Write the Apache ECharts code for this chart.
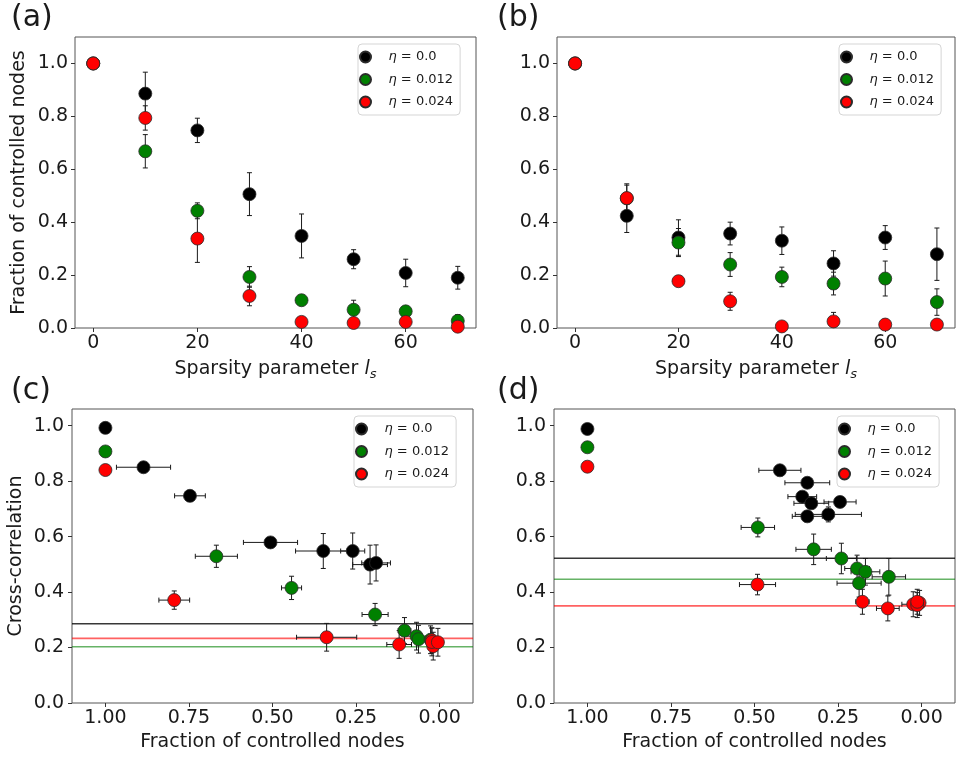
<!DOCTYPE html>
<html>
<head>
<meta charset="utf-8">
<script src="https://cdn.jsdelivr.net/npm/echarts@6/dist/echarts.min.js"></script>
<style>
  html, body { margin: 0; padding: 0; background: #fff; }
  #chart { width: 956px; height: 757px; }
</style>
</head>
<body>
<div id="chart"></div>
<script>
// ---------------- DATA ----------------
const etaNames = ['η = 0.0', 'η = 0.012', 'η = 0.024'];
const sparsity = [0, 10, 20, 30, 40, 50, 60, 70];

// (a) fraction of controlled nodes vs sparsity
const aBlack    = [1.0, 0.886, 0.747, 0.506, 0.348, 0.260, 0.208, 0.190];
const aBlackErr = [0, 0.081, 0.046, 0.081, 0.083, 0.036, 0.052, 0.043];
const aGreen    = [1.0, 0.668, 0.443, 0.193, 0.105, 0.069, 0.063, 0.027];
const aGreenErr = [0, 0.063, 0.030, 0.039, 0.019, 0.036, 0.010, 0.024];
const aRed      = [1.0, 0.794, 0.338, 0.121, 0.023, 0.019, 0.023, 0.005];
const aRedErr   = [0, 0.046, 0.090, 0.037, 0.010, 0.010, 0.010, 0.010];

// (b) fraction of controlled nodes vs sparsity
const bBlack    = [1.0, 0.424, 0.342, 0.357, 0.330, 0.244, 0.342, 0.279];
const bBlackErr = [0, 0.063, 0.067, 0.043, 0.052, 0.048, 0.045, 0.099];
const bGreen    = [1.0, 0.490, 0.323, 0.240, 0.193, 0.168, 0.187, 0.098];
const bGreenErr = [0, 0.050, 0.053, 0.045, 0.037, 0.043, 0.066, 0.050];
const bRed      = [1.0, 0.491, 0.177, 0.101, 0.006, 0.025, 0.013, 0.013];
const bRedErr   = [0, 0.054, 0.020, 0.034, 0.010, 0.034, 0.020, 0.010];

// (c) cross-correlation (x = fraction from (a))
const cBlack    = [0.992, 0.850, 0.747, 0.579, 0.548, 0.548, 0.499, 0.505];
const cBlackErr = [0, 0.008, 0.010, 0.008, 0.063, 0.065, 0.070, 0.065];
const cGreen    = [0.907, 0.529, 0.415, 0.319, 0.261, 0.241, 0.230, 0.228];
const cGreenErr = [0, 0.040, 0.042, 0.040, 0.047, 0.050, 0.050, 0.050];
const cRed      = [0.840, 0.371, 0.237, 0.211, 0.226, 0.205, 0.220, 0.219];
const cRedErr   = [0, 0.033, 0.050, 0.050, 0.045, 0.050, 0.050, 0.050];
const cLines    = [0.286, 0.203, 0.233]; // black, green, red

// (d) cross-correlation (x = fraction from (b))
const dBlack    = [0.988, 0.839, 0.794, 0.744, 0.720, 0.725, 0.673, 0.680];
const dBlackErr = [0, 0.010, 0.010, 0.010, 0.015, 0.015, 0.015, 0.027];
const dGreen    = [0.922, 0.633, 0.554, 0.521, 0.485, 0.473, 0.432, 0.455];
const dGreenErr = [0, 0.034, 0.055, 0.055, 0.048, 0.048, 0.050, 0.066];
const dRed      = [0.852, 0.427, 0.365, 0.341, 0.361, 0.356, 0.353, 0.365];
const dRedErr   = [0, 0.037, 0.045, 0.045, 0.045, 0.045, 0.045, 0.045];
const dLines    = [0.522, 0.446, 0.350];

// tick labels
const sparsityTicks = [0, 20, 40, 60];
const fracTicks = [0, 0.2, 0.4, 0.6, 0.8, 1.0];
const revFracTicks = [0, 0.25, 0.5, 0.75, 1.0];

// ---------------- STYLE ----------------
const FONT = 'DejaVu Sans';
const TXT = '#1a1a1a';
const colors = ['#000000', '#008000', '#ff0000'];
const lineColors = ['rgba(0,0,0,0.78)', 'rgba(0,128,0,0.6)', 'rgba(255,0,0,0.62)'];

const chart = echarts.init(document.getElementById('chart'));

function renderErr(params, api) {
  const x = api.value(0), y = api.value(1), xe = api.value(2), ye = api.value(3);
  const st = { stroke: '#1a1a1a', lineWidth: 1 };
  const cap = 2.5;
  const ch = [];
  if (ye > 0) {
    const p1 = api.coord([x, y - ye]), p2 = api.coord([x, y + ye]);
    ch.push({ type: 'line', shape: { x1: p1[0], y1: p1[1], x2: p2[0], y2: p2[1] }, style: st });
    ch.push({ type: 'line', shape: { x1: p1[0] - cap, y1: p1[1], x2: p1[0] + cap, y2: p1[1] }, style: st });
    ch.push({ type: 'line', shape: { x1: p2[0] - cap, y1: p2[1], x2: p2[0] + cap, y2: p2[1] }, style: st });
  }
  if (xe > 0) {
    const p1 = api.coord([x - xe, y]), p2 = api.coord([x + xe, y]);
    ch.push({ type: 'line', shape: { x1: p1[0], y1: p1[1], x2: p2[0], y2: p2[1] }, style: st });
    ch.push({ type: 'line', shape: { x1: p1[0], y1: p1[1] - cap, x2: p1[0], y2: p1[1] + cap }, style: st });
    ch.push({ type: 'line', shape: { x1: p2[0], y1: p2[1] - cap, x2: p2[0], y2: p2[1] + cap }, style: st });
  }
  return { type: 'group', children: ch };
}

const series = [];
function addPanel(p, xsList, ysList, xeList, yeList) {
  for (let k = 0; k < 3; k++) {
    const data = ysList[k].map((y, i) => [xsList[k][i], y, xeList ? xeList[k][i] : 0, yeList[k][i]]);
    series.push({
      type: 'custom', xAxisIndex: p, yAxisIndex: p, renderItem: renderErr,
      data: data, clip: true, z: 2, silent: true, encode: { x: 0, y: 1 }
    });
    series.push({
      type: 'scatter', name: etaNames[k], xAxisIndex: p, yAxisIndex: p,
      data: data.map(d => [d[0], d[1]]), symbol: 'circle', symbolSize: 13,
      itemStyle: { color: colors[k], borderColor: '#2b2b2b', borderWidth: 0.8, opacity: 1 },
      z: 3 + k, silent: true
    });
  }
}
function addLines(p, vals) {
  for (let k = 0; k < 3; k++) {
    series.push({
      type: 'line', xAxisIndex: p, yAxisIndex: p, symbol: 'none', silent: true, z: 1,
      data: [[-0.1, vals[k]], [1.1, vals[k]]],
      lineStyle: { color: lineColors[k], width: 1.6 }
    });
  }
}

addPanel(0, [sparsity, sparsity, sparsity], [aBlack, aGreen, aRed], null, [aBlackErr, aGreenErr, aRedErr]);
addPanel(1, [sparsity, sparsity, sparsity], [bBlack, bGreen, bRed], null, [bBlackErr, bGreenErr, bRedErr]);
addLines(2, cLines);
addPanel(2, [aBlack, aGreen, aRed], [cBlack, cGreen, cRed], [aBlackErr, aGreenErr, aRedErr], [cBlackErr, cGreenErr, cRedErr]);
addLines(3, dLines);
addPanel(3, [bBlack, bGreen, bRed], [dBlack, dGreen, dRed], [bBlackErr, bGreenErr, bRedErr], [dBlackErr, dGreenErr, dRedErr]);

const grids = [
  { left: 75, top: 37, width: 401, height: 291 },
  { left: 557, top: 37, width: 398, height: 291 },
  { left: 72, top: 409, width: 401, height: 294 },
  { left: 554, top: 409, width: 401, height: 294 }
].map(g => Object.assign(g, { show: true, borderColor: '#555', borderWidth: 1, backgroundColor: 'transparent' }));

const tickStyle = { show: true, length: 4, inside: false, lineStyle: { color: '#333', width: 1 } };
const labelBase = { fontFamily: FONT, fontSize: 19, color: TXT };
const nameRich = {
  i: { fontFamily: FONT, fontSize: 19, fontStyle: 'italic', color: TXT, lineHeight: 24 },
  s: { fontFamily: FONT, fontSize: 13, fontStyle: 'italic', color: TXT, lineHeight: 10, verticalAlign: 'bottom' }
};
const noLine = { show: false, onZero: false };

function sparsityX(gi) {
  return {
    type: 'value', gridIndex: gi, min: -3.5, max: 73.5,
    axisLine: noLine, splitLine: { show: false },
    axisTick: Object.assign({ customValues: sparsityTicks }, tickStyle),
    axisLabel: Object.assign({ customValues: sparsityTicks, margin: 6, formatter: v => String(v) }, labelBase),
    name: 'Sparsity parameter {i|l}{s|s}', nameLocation: 'middle', nameGap: 29,
    nameTextStyle: { fontFamily: FONT, fontSize: 19, color: TXT, lineHeight: 24, rich: nameRich }
  };
}
function fracX(gi) {
  return {
    type: 'value', gridIndex: gi, min: -0.1, max: 1.1, inverse: true,
    axisLine: noLine, splitLine: { show: false },
    axisTick: Object.assign({ customValues: revFracTicks }, tickStyle),
    axisLabel: Object.assign({ customValues: revFracTicks, margin: 6, formatter: v => v.toFixed(2) }, labelBase),
    name: 'Fraction of controlled nodes', nameLocation: 'middle', nameGap: 27,
    nameTextStyle: { fontFamily: FONT, fontSize: 19, color: TXT, lineHeight: 24 }
  };
}
function yAx(gi, max, name, margin) {
  const o = {
    type: 'value', gridIndex: gi, min: 0, max: max,
    axisLine: noLine, splitLine: { show: false },
    axisTick: Object.assign({ customValues: fracTicks }, tickStyle),
    axisLabel: Object.assign({ customValues: fracTicks, margin: margin, formatter: v => v.toFixed(1) }, labelBase)
  };
  if (name) {
    o.name = name; o.nameLocation = 'middle'; o.nameGap = 46;
    o.nameTextStyle = { fontFamily: FONT, fontSize: 19, color: TXT };
  }
  return o;
}

function legendAt(left, top) {
  return {
    orient: 'vertical', left: left, top: top, data: etaNames, icon: 'circle',
    itemWidth: 36, itemHeight: 11, itemGap: 6.5, padding: [5, 7, 5, 1],
    selectedMode: false,
    backgroundColor: 'rgba(255,255,255,0.85)', borderColor: '#d5d5d5', borderWidth: 1, borderRadius: 4,
    formatter: n => '{i|η}' + n.slice(1),
    textStyle: {
      fontFamily: FONT, fontSize: 13, color: TXT, lineHeight: 16,
      rich: { i: { fontFamily: FONT, fontSize: 13, fontStyle: 'italic', color: TXT, lineHeight: 16 } }
    }
  };
}

const panelTitle = (t, l, tp) => ({ text: t, left: l, top: tp, padding: 0,
  textStyle: { fontFamily: FONT, fontSize: 30, fontWeight: 'normal', color: TXT } });

chart.setOption({
  animation: false,
  backgroundColor: '#ffffff',
  title: [panelTitle('(a)', 11, 3), panelTitle('(b)', 497, 3), panelTitle('(c)', 11, 376), panelTitle('(d)', 497, 376)],
  legend: [legendAt(358, 44), legendAt(839, 44), legendAt(354, 416), legendAt(837, 416)],
  grid: grids,
  xAxis: [sparsityX(0), sparsityX(1), fracX(2), fracX(3)],
  yAxis: [
    yAx(0, 1.1, 'Fraction of controlled nodes', 7),
    yAx(1, 1.1, null, 7),
    yAx(2, 1.06, 'Cross-correlation', 8),
    yAx(3, 1.06, null, 8)
  ],
  series: series
});
</script>
</body>
</html>
